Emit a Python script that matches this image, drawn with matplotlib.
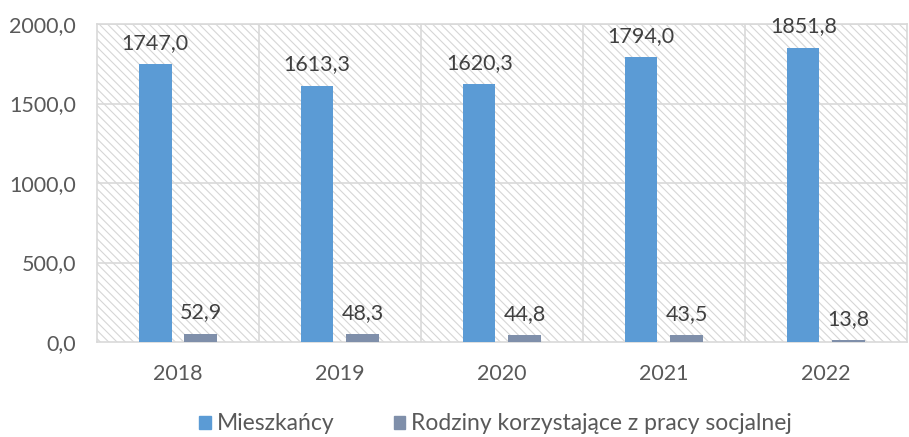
import matplotlib.pyplot as plt
import numpy as np
from matplotlib.patches import Rectangle, Patch
from matplotlib.ticker import FuncFormatter

years = ["2018", "2019", "2020", "2021", "2022"]
mieszkancy = [1747.0, 1613.3, 1620.3, 1794.0, 1851.8]
rodziny = [52.9, 48.3, 44.8, 43.5, 13.8]
series_names = ["Mieszkańcy", "Rodziny korzystające z pracy socjalnej"]

BLUE = "#5B9BD5"
GREY = "#7F8FAA"
GRID = "#d9d9d9"
TXT = "#595959"

plt.rcParams["font.family"] = ["Lato", "DejaVu Sans"]
plt.rcParams["hatch.linewidth"] = 0.8


def pl(v, pos=None):
    return f"{v:.1f}".replace(".", ",")


fig = plt.figure(figsize=(9.09, 4.37), dpi=100)
ax = fig.add_axes([0.1067, 0.2174, 0.891, 0.7276])

# hatched plot area
ax.patch.set_facecolor("white")
ax.add_patch(Rectangle((0, 0), 1, 1, transform=ax.transAxes, facecolor="white",
                       edgecolor="#d6d6d6", hatch="\\\\\\\\", lw=0, zorder=0))

x = np.arange(len(years))
w = 0.2
off = 0.14
b1 = ax.bar(x - off, mieszkancy, w, color=BLUE, zorder=3)
b2 = ax.bar(x + off, rodziny, w, color=GREY, zorder=3)

for bars, vals in ((b1, mieszkancy), (b2, rodziny)):
    for r, v in zip(bars, vals):
        ax.annotate(pl(v), (r.get_x() + r.get_width() / 2, v), xytext=(0, 8),
                    textcoords="offset points", ha="center", va="bottom",
                    fontsize=15.5, color="#404040", zorder=4)

ax.set_xlim(-0.5, len(years) - 0.5)
ax.set_ylim(0, 2000)
ax.set_yticks(np.arange(0, 2001, 500))
ax.yaxis.set_major_formatter(FuncFormatter(pl))
ax.set_xticks(x)
ax.set_xticklabels(years)

# grid: horizontal at major ticks, vertical at category boundaries
for yv in np.arange(500, 2001, 500):
    ax.axhline(yv, color=GRID, lw=1.2, zorder=1)
for xv in np.arange(0.5, len(years) - 0.5, 1):
    ax.axvline(xv, color=GRID, lw=1.2, zorder=1)

for s in ax.spines.values():
    s.set_color(GRID)
    s.set_linewidth(1.2)

ax.tick_params(axis="both", length=0, labelsize=15.5, colors=TXT)
ax.tick_params(axis="x", pad=16)
ax.tick_params(axis="y", pad=15)

handles = [Patch(color=BLUE), Patch(color=GREY)]
fig.legend(handles, series_names, loc="center", bbox_to_anchor=(0.545, 0.03),
           ncol=2, frameon=False, fontsize=16.5, labelcolor=TXT,
           handlelength=0.5, handleheight=0.5, handletextpad=0.25, columnspacing=2.6)

fig.savefig("out.png", dpi=100)
